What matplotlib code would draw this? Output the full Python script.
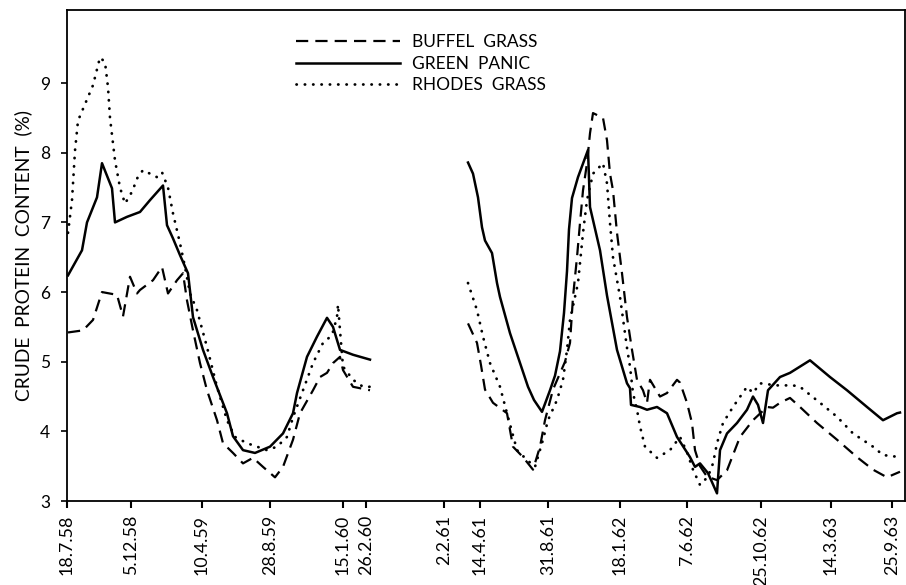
import matplotlib
matplotlib.use("Agg")
import matplotlib.pyplot as plt
import numpy as np

# x = sampling position along the (non-linear) date axis, y = crude protein (%)
tick_pos = [67, 131, 202, 270, 343, 366, 444, 480, 548, 620, 687, 761, 831, 892]
tick_labels = ["18.7.58", "5.12.58", "10.4.59", "28.8.59", "15.1.60", "26.2.60",
               "2.2.61", "14.4.61", "31.8.61", "18.1.62", "7.6.62", "25.10.62",
               "14.3.63", "25.9.63"]

# 1958-60
buffel_1 = [(68, 5.42), (83, 5.45), (93, 5.6), (102, 6.0), (117, 5.96), (123, 5.65),
            (130, 6.22), (137, 5.98), (140, 6.03), (153, 6.17), (162, 6.36), (168, 5.98),
            (177, 6.17), (183, 6.27), (187, 5.88), (193, 5.45), (200, 4.98), (207, 4.59),
            (217, 4.16), (223, 3.83), (233, 3.69), (243, 3.54), (253, 3.62), (263, 3.49),
            (275, 3.34), (283, 3.49), (293, 3.88), (300, 4.26), (313, 4.59), (320, 4.78),
            (327, 4.84), (333, 4.98), (340, 5.07), (343, 4.88), (353, 4.64), (370, 4.59)]
green_1 = [(68, 6.24), (82, 6.6), (87, 7.0), (97, 7.36), (102, 7.85), (112, 7.49),
           (115, 7.0), (127, 7.08), (140, 7.15), (150, 7.32), (163, 7.53), (167, 6.96),
           (173, 6.77), (180, 6.53), (188, 6.27), (193, 5.64), (203, 5.17), (213, 4.78),
           (227, 4.26), (233, 3.93), (243, 3.73), (255, 3.69), (270, 3.78), (283, 3.97),
           (293, 4.26), (297, 4.55), (307, 5.07), (317, 5.36), (327, 5.63), (333, 5.5),
           (340, 5.17), (353, 5.1), (370, 5.03)]
rhodes_1 = [(68, 6.85), (72, 7.32), (75, 8.03), (78, 8.46), (83, 8.63), (88, 8.8),
            (93, 8.97), (100, 9.37), (105, 9.3), (108, 8.94), (110, 8.5), (115, 7.89),
            (120, 7.5), (125, 7.27), (132, 7.44), (138, 7.66), (143, 7.75), (150, 7.7),
            (157, 7.65), (162, 7.72), (168, 7.5), (173, 7.13), (180, 6.7), (185, 6.36),
            (190, 5.98), (197, 5.74), (207, 5.21), (217, 4.64), (227, 4.16), (235, 3.92),
            (247, 3.83), (257, 3.78), (267, 3.73), (277, 3.78), (287, 3.92), (293, 4.2),
            (303, 4.59), (313, 4.98), (323, 5.27), (332, 5.38), (337, 5.64), (338, 5.82),
            (340, 5.45), (343, 4.93), (353, 4.74), (363, 4.64), (373, 4.64)]

# 1961-63
buffel_2 = [(468, 5.55), (477, 5.27), (481, 4.95), (485, 4.6), (493, 4.41), (507, 4.26),
            (510, 4.02), (513, 3.78), (523, 3.63), (533, 3.45), (540, 3.78), (545, 4.16),
            (553, 4.6), (565, 5.0), (570, 5.27), (573, 5.93), (577, 6.5), (580, 6.99),
            (583, 7.46), (587, 7.85), (590, 8.28), (593, 8.57), (603, 8.5), (607, 8.18),
            (610, 7.7), (613, 7.46), (617, 6.85), (622, 6.27), (627, 5.64), (632, 5.17),
            (637, 4.74), (643, 4.59), (647, 4.41), (650, 4.74), (660, 4.5), (667, 4.55),
            (677, 4.74), (680, 4.7), (687, 4.41), (692, 4.12), (695, 3.73), (700, 3.5),
            (707, 3.35), (717, 3.3), (727, 3.44), (740, 3.92), (753, 4.16), (767, 4.35),
            (773, 4.34), (780, 4.41), (790, 4.48), (800, 4.35), (817, 4.12), (837, 3.88),
            (857, 3.63), (873, 3.45), (887, 3.34), (900, 3.42)]
green_2 = [(468, 7.86), (473, 7.7), (478, 7.36), (482, 6.93), (485, 6.74), (492, 6.56),
           (497, 6.13), (500, 5.93), (510, 5.41), (528, 4.64), (534, 4.45), (542, 4.28),
           (550, 4.59), (555, 4.8), (560, 5.15), (564, 5.7), (567, 6.3), (569, 6.9),
           (572, 7.35), (578, 7.65), (588, 8.04), (590, 7.22), (600, 6.6), (607, 5.95),
           (617, 5.17), (627, 4.69), (630, 4.62), (631, 4.38), (640, 4.35), (647, 4.31),
           (657, 4.35), (667, 4.26), (677, 3.92), (690, 3.63), (695, 3.49), (700, 3.54),
           (708, 3.4), (717, 3.11), (720, 3.73), (727, 3.97), (737, 4.12), (747, 4.31),
           (753, 4.5), (758, 4.38), (763, 4.12), (768, 4.59), (780, 4.78), (790, 4.84),
           (810, 5.02), (830, 4.78), (847, 4.59), (867, 4.35), (883, 4.16), (897, 4.26),
           (900, 4.27)]
rhodes_2 = [(468, 6.13), (477, 5.74), (483, 5.36), (490, 4.98), (500, 4.64), (507, 4.26),
            (517, 3.73), (527, 3.59), (535, 3.49), (543, 3.88), (548, 4.16), (557, 4.45),
            (563, 4.74), (567, 5.17), (570, 5.6), (578, 6.13), (583, 6.85), (587, 7.32),
            (593, 7.7), (603, 7.85), (607, 7.56), (610, 6.99), (613, 6.5), (620, 5.93),
            (627, 5.2), (630, 4.93), (633, 4.55), (637, 4.31), (640, 4.07), (645, 3.78),
            (657, 3.62), (670, 3.73), (680, 3.92), (687, 3.7), (693, 3.45), (700, 3.23),
            (708, 3.35), (713, 3.54), (717, 3.83), (723, 4.12), (733, 4.35), (747, 4.64),
            (753, 4.55), (760, 4.69), (777, 4.66), (793, 4.66), (800, 4.64), (820, 4.41),
            (837, 4.21), (853, 3.97), (873, 3.78), (883, 3.66), (900, 3.63)]

plt.rcParams['font.family'] = ['Lato', 'DejaVu Sans']

fig = plt.figure(figsize=(9.06, 5.85), dpi=100)
ax = fig.add_axes([67 / 906, 84 / 585, 838 / 906, 491 / 585])

dashed = dict(color='black', lw=1.6, linestyle=(0, (5.5, 3.2)))
solid = dict(color='black', lw=1.8)
dotted = dict(color='black', lw=2.0, linestyle=(0, (0.1, 2.9)), dash_capstyle='round')

for series, style, label in [(buffel_1, dashed, 'BUFFEL  GRASS'),
                             (green_1, solid, 'GREEN  PANIC'),
                             (rhodes_1, dotted, 'RHODES  GRASS'),
                             (buffel_2, dashed, None),
                             (green_2, solid, None),
                             (rhodes_2, dotted, None)]:
    x, y = np.array(series).T
    ax.plot(x, y, label=label, **style)

ax.set_xlim(67, 905)
ax.set_ylim(3, 10.05)
ax.set_xticks(tick_pos)
ax.set_xticklabels(tick_labels, rotation=90, fontsize=12.8)
ax.set_yticks(range(3, 10))
ax.tick_params(axis='y', labelsize=12.5, length=4, width=1.2, pad=8)
ax.tick_params(axis='x', length=5, width=1.5, pad=5)
ax.set_ylabel('CRUDE  PROTEIN  CONTENT  (%)', fontsize=13.8, labelpad=6)
for s in ax.spines.values():
    s.set_linewidth(1.3)

ax.legend(loc='upper left', bbox_to_anchor=(220 / 838, 0.968), frameon=False,
          fontsize=12.5, handlelength=6.0, handletextpad=0.7, labelspacing=0.3,
          borderpad=0)

fig.savefig('out.png', dpi=100)
